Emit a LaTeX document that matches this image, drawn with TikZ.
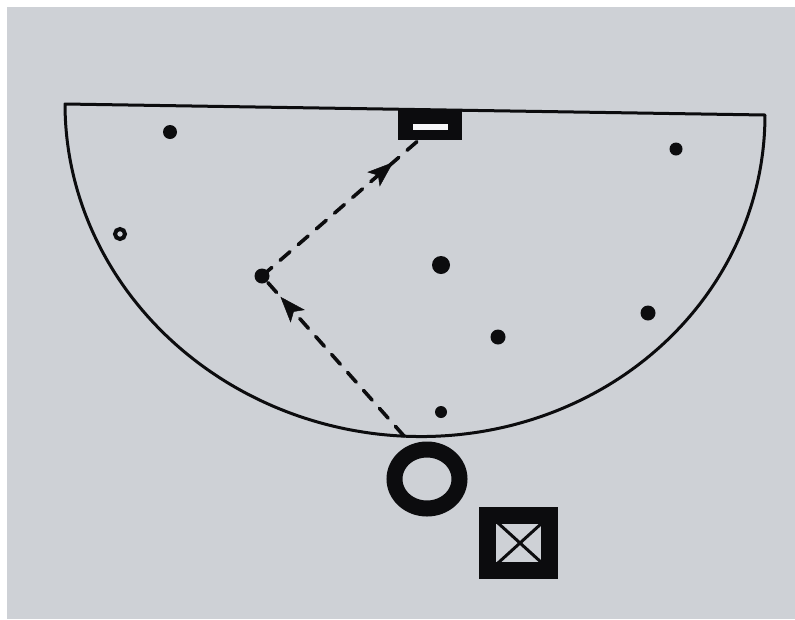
\documentclass[tikz,border=0pt]{standalone}
\usetikzlibrary{arrows.meta,decorations.markings,calc,shapes.geometric}
\definecolor{bg}{RGB}{206,209,214}
\definecolor{ink}{RGB}{12,12,14}
\tikzset{
  dot/.style={circle,fill=ink,inner sep=0pt,minimum size=#1},
  ringdot/.style={circle,draw=ink,fill=bg,line width=4pt,inner sep=0pt,minimum size=10pt},
  court/.style={draw=ink,line width=3pt,line join=round},
  pass/.style={draw=ink,line width=3.6pt,dash pattern=on 13pt off 11pt,line cap=round,
    postaction={decorate},decoration={markings,mark=at position #1 with {\arrow[ink,line width=0.5pt,solid]{Stealth[length=26pt,width=19pt,inset=6pt]}}}}
}
\begin{document}
\begin{tikzpicture}[x=1pt,y=-1pt]
\useasboundingbox (0,0) rectangle (795,619);
\fill[white] (0,0) rectangle (795,619);
\fill[bg] (7,7) rectangle (795,619);
% court: half ellipse with top line
\draw[court] plot[domain=180:360,samples=140,smooth]
  ({415+350*cos(\x)},{109.5+0.0157*350*cos(\x)-327*sin(\x)}) -- cycle;
% basket
\node[fill=ink,minimum width=64pt,minimum height=30pt,inner sep=0pt] (basket) at (430,125) {};
\node[fill=white!85!bg,minimum width=35pt,minimum height=6pt,inner sep=0pt] (slot) at (430.5,127) {};
% players / dots
\node[dot=14pt] (d1) at (170,132) {};
\node[dot=13pt] (d2) at (676,149) {};
\node[ringdot] (d3) at (120,234) {};
\node[dot=18pt] (d4) at (441,265) {};
\node[dot=15pt] (d5) at (498,337) {};
\node[dot=15pt] (d6) at (648,313) {};
\node[dot=12pt] (d7) at (441,412) {};
\node[dot=15pt] (p) at (262,276) {};
\coordinate (s) at (404,436);
\coordinate (b) at (420,139);
% passes
\draw[pass=0.87] (s) -- (p.center);
\draw[pass=0.83] (p.center) -- (b);
% big ring
\node[draw=ink,line width=16pt,ellipse,minimum width=65pt,minimum height=59pt,inner sep=0pt] (ring) at (427,479) {};
% square with cross
\node[draw=ink,line width=17pt,minimum width=61.5pt,minimum height=54.5pt,inner sep=0pt] (sq) at (518.5,543) {};
\draw[ink,line width=3pt] (498,523) -- (542,563) (498,563) -- (542,523);
\end{tikzpicture}
\end{document}
